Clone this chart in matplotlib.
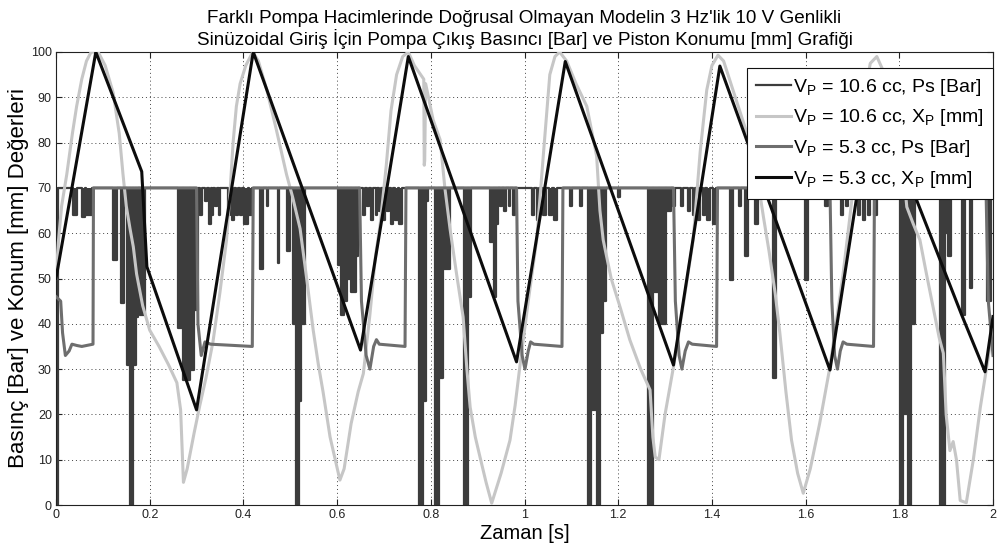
import matplotlib
matplotlib.use('Agg')
import matplotlib.pyplot as plt
from matplotlib.ticker import FuncFormatter

plt.rcParams['font.family'] = ['Liberation Sans', 'DejaVu Sans']
plt.rcParams['mathtext.fontset'] = 'custom'
plt.rcParams['mathtext.rm'] = 'Liberation Sans'
plt.rcParams['mathtext.it'] = 'Liberation Sans:italic'
plt.rcParams['mathtext.bf'] = 'Liberation Sans:bold'

# ---------------- texts ----------------
title_text = ("Farklı Pompa Hacimlerinde Doğrusal Olmayan Modelin 3 Hz'lik 10 V Genlikli\n"
              "Sinüzoidal Giriş İçin Pompa Çıkış Basıncı [Bar] ve Piston Konumu [mm] Grafiği")
xlabel_text = 'Zaman [s]'
ylabel_text = 'Basınç [Bar] ve Konum [mm] Değerleri'
series_labels = [r'V$_\mathrm{P}$ = 10.6 cc, Ps [Bar]',
                 r'V$_\mathrm{P}$ = 10.6 cc, X$_\mathrm{P}$ [mm]',
                 r'V$_\mathrm{P}$ = 5.3 cc, Ps [Bar]',
                 r'V$_\mathrm{P}$ = 5.3 cc, X$_\mathrm{P}$ [mm]']
x_ticks = [0, 0.2, 0.4, 0.6, 0.8, 1.0, 1.2, 1.4, 1.6, 1.8, 2.0]
y_ticks = [0, 10, 20, 30, 40, 50, 60, 70, 80, 90, 100]

# ---------------- data ----------------
# V_P = 10.6 cc, Ps [Bar]: baseline pressure with drop-outs (start, end, level)
ps106_base = 70
ps106_drop_start = [0.000, 0.037, 0.055, 0.065, 0.122, 0.138, 0.151, 0.158, 0.165, 0.170, 0.179,
                    0.261, 0.272, 0.286, 0.295, 0.308, 0.318, 0.326, 0.333, 0.340, 0.347,
                    0.368, 0.376, 0.385, 0.393, 0.401, 0.412, 0.436, 0.450, 0.473, 0.494,
                    0.505, 0.512, 0.518, 0.524, 0.601, 0.608, 0.614, 0.622, 0.630, 0.640,
                    0.655, 0.664, 0.672, 0.682, 0.690, 0.698, 0.706, 0.714, 0.724, 0.732,
                    0.774, 0.784, 0.789, 0.808, 0.818, 0.826, 0.870, 0.879, 0.926, 0.934,
                    0.940, 0.948, 0.956, 0.966, 0.976, 1.016, 1.026, 1.040, 1.053, 1.064,
                    1.097, 1.118, 1.136, 1.143, 1.154, 1.161, 1.168, 1.200, 1.264, 1.274,
                    1.288, 1.302, 1.316, 1.335, 1.350, 1.360, 1.370, 1.380, 1.390, 1.402,
                    1.439, 1.457, 1.471, 1.493, 1.531, 1.599, 1.642, 1.676, 1.686, 1.712,
                    1.722, 1.733, 1.745, 1.801, 1.808, 1.818, 1.826, 1.887, 1.897, 1.904,
                    1.934, 1.950, 1.988]
ps106_drop_end = [0.004, 0.044, 0.062, 0.076, 0.130, 0.145, 0.158, 0.165, 0.170, 0.176, 0.190,
                  0.272, 0.286, 0.295, 0.303, 0.312, 0.322, 0.330, 0.336, 0.344, 0.350,
                  0.372, 0.380, 0.389, 0.397, 0.409, 0.418, 0.441, 0.453, 0.477, 0.499,
                  0.512, 0.518, 0.524, 0.531, 0.608, 0.614, 0.622, 0.630, 0.640, 0.645,
                  0.659, 0.668, 0.676, 0.686, 0.694, 0.702, 0.710, 0.720, 0.729, 0.738,
                  0.784, 0.789, 0.795, 0.818, 0.826, 0.840, 0.879, 0.885, 0.934, 0.940,
                  0.944, 0.952, 0.960, 0.970, 0.980, 1.020, 1.030, 1.045, 1.058, 1.070,
                  1.102, 1.123, 1.143, 1.154, 1.161, 1.168, 1.175, 1.204, 1.274, 1.288,
                  1.302, 1.312, 1.322, 1.339, 1.354, 1.364, 1.374, 1.385, 1.395, 1.408,
                  1.445, 1.462, 1.477, 1.499, 1.537, 1.605, 1.648, 1.680, 1.690, 1.717,
                  1.727, 1.738, 1.752, 1.808, 1.818, 1.826, 1.833, 1.897, 1.904, 1.910,
                  1.940, 1.955, 1.996]
ps106_drop_level = [0, 64, 63.5, 64, 54, 44.6, 31, 0, 31, 41.5, 42,
                    39, 27.6, 29.8, 43, 64, 67, 62, 64, 66, 64,
                    64, 63, 64, 64, 62, 64, 52, 66, 53.4, 56,
                    40, 0, 23, 40, 53, 42, 45, 50, 47, 55,
                    64, 66, 63, 64, 65, 63, 65, 62, 63, 62,
                    0, 23, 67, 0, 28, 52, 0, 46, 58, 46,
                    62, 66, 65, 66, 64, 64, 63, 64, 64, 63,
                    66, 66, 0, 21, 0, 38, 45, 68, 0, 47,
                    40, 65, 66, 66, 65, 64, 63, 64, 63, 62,
                    49.7, 66, 55, 62, 28, 49.7, 66, 64, 66, 64,
                    63, 64, 64, 0, 20, 0, 40, 0, 60, 55,
                    42, 48, 45]

# V_P = 10.6 cc, X_P [mm]
xp106_t = [0.000, 0.005, 0.012, 0.023, 0.035, 0.044, 0.055, 0.065, 0.075, 0.090, 0.105, 0.122,
           0.135, 0.143, 0.150, 0.158, 0.165, 0.172, 0.185, 0.200, 0.220, 0.240, 0.258, 0.266,
           0.272, 0.280, 0.295, 0.307, 0.320, 0.335, 0.350, 0.364, 0.372, 0.378, 0.385, 0.393,
           0.405, 0.420, 0.432, 0.450, 0.470, 0.492, 0.505, 0.521, 0.535, 0.549, 0.560, 0.570,
           0.585, 0.606, 0.615, 0.630, 0.645, 0.656, 0.670, 0.682, 0.692, 0.705, 0.715, 0.727,
           0.740, 0.752, 0.765, 0.785, 0.786, 0.787, 0.789, 0.805, 0.820, 0.830, 0.841, 0.855,
           0.869, 0.877, 0.884, 0.895, 0.905, 0.918, 0.930, 0.950, 0.969, 0.980, 0.990, 1.008,
           1.026, 1.040, 1.054, 1.065, 1.075, 1.090, 1.110, 1.133, 1.154, 1.161, 1.168, 1.185,
           1.204, 1.225, 1.248, 1.268, 1.274, 1.279, 1.287, 1.300, 1.318, 1.340, 1.360, 1.375,
           1.389, 1.400, 1.413, 1.425, 1.450, 1.475, 1.496, 1.510, 1.522, 1.535, 1.545, 1.558,
           1.570, 1.583, 1.595, 1.610, 1.630, 1.652, 1.665, 1.680, 1.695, 1.709, 1.722, 1.738,
           1.752, 1.765, 1.790, 1.805, 1.816, 1.830, 1.844, 1.858, 1.872, 1.885, 1.894, 1.900,
           1.908, 1.915, 1.922, 1.930, 1.943, 1.958, 1.973, 1.990, 2.000]
xp106_v = [50, 58, 66, 73, 82, 88, 94, 98, 100, 100, 97, 91,
           82, 73, 66, 61, 57, 51, 44, 38.6, 35, 31, 27, 21,
           5, 8, 16, 22, 28, 36, 47, 58.5, 70, 80, 88, 93,
           97, 100, 98, 91.6, 83, 73, 68, 61, 50, 38.6, 31, 25,
           15, 5.5, 8, 18, 25, 29, 42, 55, 62, 75, 87, 95,
           99, 100, 97, 94, 75, 76, 93, 85, 80.6, 70, 61, 51,
           41.5, 30, 21.6, 15, 10.6, 5, 0.4, 7, 14.3, 22, 30.5, 45,
           58.5, 77, 95, 99, 100, 98, 93, 88, 77, 65, 58.5, 50,
           43.7, 36.4, 30, 25.4, 15, 10.6, 10, 20, 30.5, 45, 58.5, 78,
           91.6, 97, 99.3, 98, 90, 82, 73, 63.6, 56, 46.8, 38, 25,
           14.3, 7, 2.6, 8, 18, 30.5, 40, 51, 64, 77, 88, 97.5,
           99, 96, 88, 78, 65.8, 62, 58.5, 51, 43.7, 37, 33.5, 20,
           12, 14, 10, 1, 0.5, 10, 21.6, 32.7, 40]

# V_P = 5.3 cc, Ps [Bar]
ps53_t = [0.000, 0.010, 0.014, 0.020, 0.028, 0.034, 0.045, 0.055, 0.079, 0.080,
          0.300, 0.303, 0.310, 0.318, 0.330, 0.419, 0.421,
          0.648, 0.652, 0.662, 0.670, 0.678, 0.684, 0.690, 0.745, 0.747,
          0.983, 0.986, 0.995, 1.001, 1.008, 1.013, 1.020, 1.080, 1.082,
          1.318, 1.322, 1.330, 1.336, 1.343, 1.350, 1.358, 1.410, 1.412,
          1.652, 1.656, 1.662, 1.668, 1.674, 1.680, 1.688, 1.745, 1.747,
          1.985, 1.990, 2.000]
ps53_v = [46, 45, 38, 33, 34, 35.5, 35.2, 35, 35.5, 70,
          70, 40, 33, 36, 35.5, 35, 70,
          70, 45, 33, 30, 35, 36.5, 35.5, 35, 70,
          70, 45, 33, 30, 34, 36, 35.5, 35, 70,
          70, 45, 33, 30, 34, 36, 35.5, 35, 70,
          70, 45, 33, 30, 34, 36, 35.5, 35, 70,
          70, 45, 33]

# V_P = 5.3 cc, X_P [mm]
xp53_t = [0.000, 0.085, 0.183, 0.194, 0.300, 0.421, 0.650, 0.752, 0.983, 1.087,
          1.318, 1.417, 1.652, 1.751, 1.837, 1.933, 1.983, 2.000]
xp53_v = [50, 100, 73.6, 52.6, 21, 100, 34.2, 99, 31.6, 97.9,
          30.9, 96.9, 29.8, 96, 67.3, 42, 29.4, 41.6]

# ---------------- build pressure drop-out series ----------------
ps106_t = [0.0]
ps106_v = [ps106_base]
for s, e, lvl in zip(ps106_drop_start, ps106_drop_end, ps106_drop_level):
    ps106_t += [s, s, e, e]
    ps106_v += [ps106_base, lvl, lvl, ps106_base]
ps106_t.append(2.0)
ps106_v.append(ps106_base)

# ---------------- plot ----------------
c_dark, c_light, c_mid, c_black = '#3c3c3c', '#c6c6c6', '#6e6e6e', '#0c0c0c'

fig = plt.figure(figsize=(9.97, 5.46), dpi=100)
ax = fig.add_axes([56 / 997, 41 / 546, 937 / 997, 453 / 546])

ax.fill_between(ps106_t, ps106_v, ps106_base, color=c_dark, linewidth=0, zorder=2)
l1, = ax.plot(ps106_t, ps106_v, color=c_dark, lw=1.6, zorder=2, label=series_labels[0])
l2, = ax.plot(xp106_t, xp106_v, color=c_light, lw=2.2, zorder=3, label=series_labels[1])
l3, = ax.plot(ps53_t, ps53_v, color=c_mid, lw=2.2, zorder=4, label=series_labels[2])
l4, = ax.plot(xp53_t, xp53_v, color=c_black, lw=2.2, zorder=5, label=series_labels[3])

ax.set_xlim(0, 2)
ax.set_ylim(0, 100)
ax.set_xticks(x_ticks)
ax.set_yticks(y_ticks)
ax.xaxis.set_major_formatter(FuncFormatter(lambda v, p: f'{v:g}'))
ax.tick_params(direction='in', length=4, width=0.8, labelsize=9, colors='#222222',
               top=True, right=True, pad=3)
ax.grid(True, linestyle=(0, (1, 3)), color='#444444', linewidth=0.7)
for sp in ax.spines.values():
    sp.set_linewidth(0.8)
    sp.set_color('#222222')

ax.set_title(title_text, fontsize=13.6, pad=5, linespacing=1.15)
ax.set_xlabel(xlabel_text, fontsize=14.5, labelpad=2)
ax.set_ylabel(ylabel_text, fontsize=16, labelpad=1)

leg = ax.legend(handles=[l1, l2, l3, l4], loc='upper right', bbox_to_anchor=(1.0, 0.9647),
                borderaxespad=0, fontsize=14, handlelength=1.8, handletextpad=0.12,
                borderpad=0.45, labelspacing=0.5, fancybox=False, framealpha=1,
                edgecolor='#111111')
leg.get_frame().set_linewidth(0.8)
leg.set_zorder(10)

fig.savefig('out.png', dpi=100)
